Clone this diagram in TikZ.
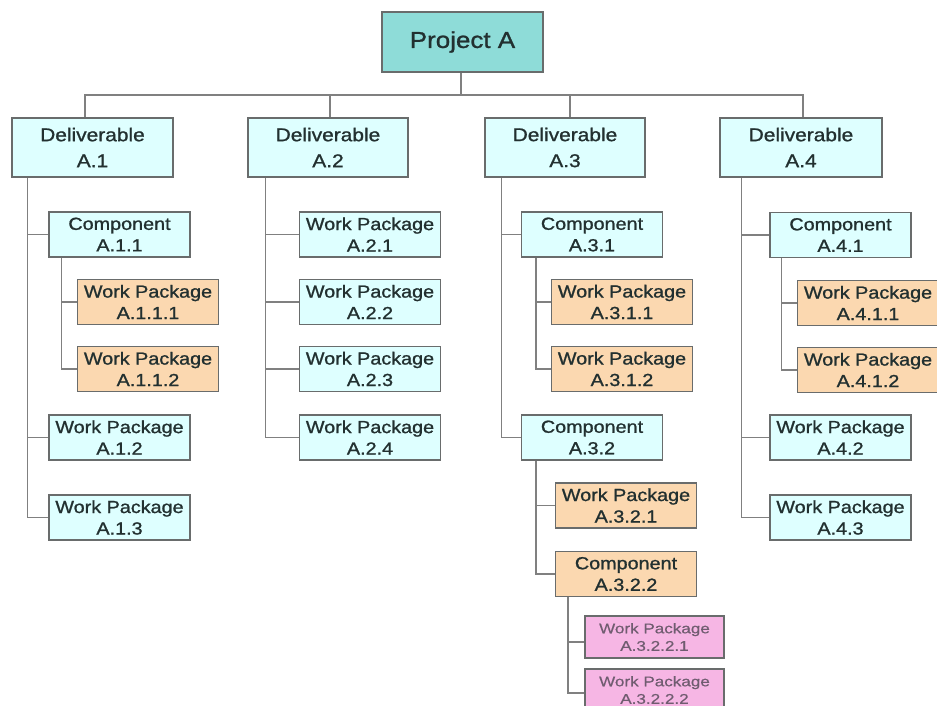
\documentclass[tikz,border=0pt]{standalone}
\usepackage{fontspec}
\setmainfont[FakeStretch=1.13, FakeBold=1.1]{Liberation Sans}
\newfontfamily\pinkfont[FakeStretch=1.22, FakeBold=0.4]{Liberation Sans}
\definecolor{projfill}{RGB}{142,220,216}
\definecolor{cyanfill}{RGB}{222,255,255}
\definecolor{orangefill}{RGB}{251,216,176}
\definecolor{pinkfill}{RGB}{246,182,228}
\definecolor{boxline}{RGB}{105,108,108}
\definecolor{connline}{RGB}{128,128,128}
\definecolor{textdark}{RGB}{34,48,48}
\definecolor{pinktext}{RGB}{112,92,112}
\tikzset{
  wbs/.style={draw=boxline, line width=1.4pt, rectangle, inner sep=0pt,
    align=center, text=textdark},
  projbox/.style={wbs, fill=projfill, minimum width=161pt, minimum height=60pt,
    font=\fontsize{23}{26}\selectfont},
  delivbox/.style={wbs, fill=cyanfill, minimum width=161pt, minimum height=59pt,
    font=\fontsize{18.5}{26}\selectfont},
  itembox/.style={wbs, fill=cyanfill, minimum width=141pt, minimum height=45pt,
    font=\fontsize{17.5}{21.5}\selectfont},
  orangebox/.style={itembox, fill=orangefill},
  pinkbox/.style={wbs, fill=pinkfill, minimum width=139pt, minimum height=42pt,
    text=pinktext, font=\pinkfont\fontsize{14}{17.5}\selectfont},
  conn/.style={draw=connline, line width=1.4pt},
}
\begin{document}
\begin{tikzpicture}[x=1pt, y=-1pt]
\useasboundingbox (0,0) rectangle (937,706);
\fill[white] (0,0) rectangle (937,706);
\clip (0,0) rectangle (937,706);

% top level
\node[projbox] (proj) at (462.5,42) {Project A};

% deliverables
\node[delivbox] (d1) at (92.5,147.5) {Deliverable\\A.1};
\node[delivbox, minimum width=160pt] (d2) at (328,147.5) {Deliverable\\A.2};
\node[delivbox, minimum width=160pt] (d3) at (565,147.5) {Deliverable\\A.3};
\node[delivbox, minimum width=162pt] (d4) at (801,147.5) {Deliverable\\A.4};

% branch A.1
\node[itembox] (c11) at (119.5,234.5) {Component\\A.1.1};
\node[orangebox] (w111) at (148,302) {Work Package\\A.1.1.1};
\node[orangebox] (w112) at (148,369) {Work Package\\A.1.1.2};
\node[itembox] (w12) at (119.5,437.5) {Work Package\\A.1.2};
\node[itembox] (w13) at (119.5,517.5) {Work Package\\A.1.3};

% branch A.2
\node[itembox] (w21) at (370,234.5) {Work Package\\A.2.1};
\node[itembox] (w22) at (370,302) {Work Package\\A.2.2};
\node[itembox] (w23) at (370,369) {Work Package\\A.2.3};
\node[itembox] (w24) at (370,437.5) {Work Package\\A.2.4};

% branch A.3
\node[itembox] (c31) at (592,234.5) {Component\\A.3.1};
\node[orangebox] (w311) at (622,302) {Work Package\\A.3.1.1};
\node[orangebox] (w312) at (622,369) {Work Package\\A.3.1.2};
\node[itembox] (c32) at (592,437.5) {Component\\A.3.2};
\node[orangebox] (w321) at (626,505.5) {Work Package\\A.3.2.1};
\node[orangebox] (c322) at (626,574) {Component\\A.3.2.2};
\node[pinkbox] (p1) at (654.5,637) {Work Package\\A.3.2.2.1};
\node[pinkbox] (p2) at (654.5,690) {Work Package\\A.3.2.2.2};

% branch A.4
\node[itembox] (c41) at (840.5,235) {Component\\A.4.1};
\node[orangebox] (w411) at (868,303) {Work Package\\A.4.1.1};
\node[orangebox] (w412) at (868,370) {Work Package\\A.4.1.2};
\node[itembox] (w42) at (840.5,437.5) {Work Package\\A.4.2};
\node[itembox] (w43) at (840.5,517.5) {Work Package\\A.4.3};

% bus under the project box
\coordinate (bus) at (461,95);
\draw[conn] (proj.south -| bus) -- (bus);
\draw[conn] ([xshift=-7.5pt]d1.north) |- (bus);
\draw[conn] ([xshift=2pt]d2.north) |- (bus);
\draw[conn] ([xshift=5pt]d3.north) |- (bus);
\draw[conn] ([xshift=2pt]d4.north) |- (bus);

% deliverable spines
\draw[conn] ([xshift=16pt]d1.south west) |- (c11.west);
\draw[conn] ([xshift=16pt]d1.south west) |- (w12.west);
\draw[conn] ([xshift=16pt]d1.south west) |- (w13.west);
\draw[conn] ([xshift=18pt]d2.south west) |- (w21.west);
\draw[conn] ([xshift=18pt]d2.south west) |- (w22.west);
\draw[conn] ([xshift=18pt]d2.south west) |- (w23.west);
\draw[conn] ([xshift=18pt]d2.south west) |- (w24.west);
\draw[conn] ([xshift=17pt]d3.south west) |- (c31.west);
\draw[conn] ([xshift=17pt]d3.south west) |- (c32.west);
\draw[conn] ([xshift=22pt]d4.south west) |- (c41.west);
\draw[conn] ([xshift=22pt]d4.south west) |- (w42.west);
\draw[conn] ([xshift=22pt]d4.south west) |- (w43.west);

% component spines
\draw[conn] ([xshift=13pt]c11.south west) |- (w111.west);
\draw[conn] ([xshift=13pt]c11.south west) |- (w112.west);
\draw[conn] ([xshift=15pt]c31.south west) |- (w311.west);
\draw[conn] ([xshift=15pt]c31.south west) |- (w312.west);
\draw[conn] ([xshift=15pt]c32.south west) |- (w321.west);
\draw[conn] ([xshift=15pt]c32.south west) |- (c322.west);
\draw[conn] ([xshift=12pt]c41.south west) |- (w411.west);
\draw[conn] ([xshift=12pt]c41.south west) |- (w412.west);
\draw[conn] ([xshift=13pt]c322.south west) |- ([yshift=-5pt]p1.west);
\draw[conn] ([xshift=13pt]c322.south west) |- ([yshift=-3pt]p2.west);
\end{tikzpicture}
\end{document}
